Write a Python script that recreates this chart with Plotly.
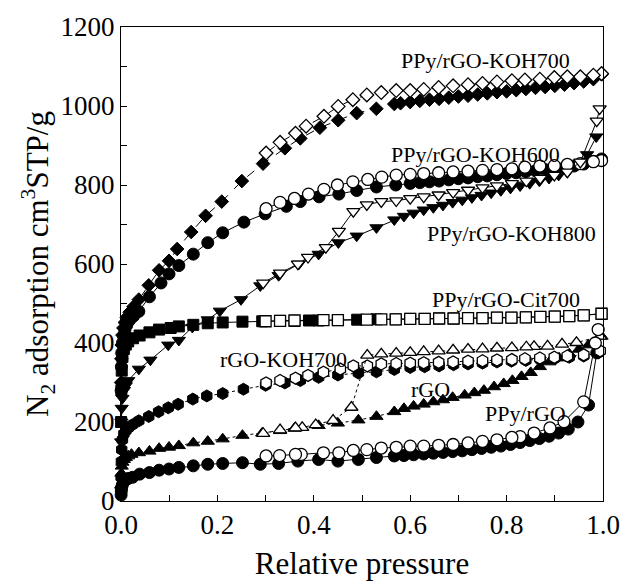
import plotly.graph_objects as go

# ---------------- data ----------------
# PPy/rGO-KOH700 (diamonds)
koh700_ads_x = [0.0003, 0.0008, 0.0015, 0.003, 0.005, 0.008, 0.012, 0.018, 0.026, 0.037, 0.0576, 0.079, 0.0996, 0.1165,
                0.1457, 0.1755, 0.209, 0.2507, 0.2947, 0.340, 0.372, 0.4126, 0.4506, 0.489, 0.5298, 0.567, 0.58, 0.6, 0.62,
                0.64, 0.66, 0.68, 0.7, 0.72, 0.74, 0.76, 0.78, 0.8, 0.82, 0.84, 0.86, 0.88, 0.9, 0.92, 0.94, 0.96, 0.98, 0.997]
koh700_ads_y = [300, 360, 395, 420, 438, 452, 465, 478, 492, 510, 546, 584, 608, 638, 681, 722, 758, 810, 854, 893, 918,
                945, 964, 982, 993, 1005, 1007, 1010, 1013, 1016, 1018, 1021, 1024, 1026, 1029, 1032, 1035, 1037, 1040, 1043,
                1046, 1048, 1051, 1054, 1058, 1062, 1068, 1080]
koh700_des_x = [0.997, 0.98, 0.953, 0.926, 0.899, 0.869, 0.838, 0.811, 0.78, 0.75, 0.72, 0.689, 0.659, 0.628, 0.6, 0.571,
                0.54, 0.51, 0.481, 0.4506, 0.421, 0.384, 0.362, 0.33, 0.301]
koh700_des_y = [1082, 1078, 1074, 1074, 1072, 1068, 1066, 1064, 1061, 1057, 1054, 1051, 1047, 1042, 1039, 1039, 1034, 1028,
                1016, 999, 974, 949, 931, 908, 881]

# PPy/rGO-KOH600 (circles)
koh600_ads_x = [0.0003, 0.0008, 0.0015, 0.003, 0.005, 0.008, 0.012, 0.018, 0.026, 0.037, 0.059, 0.083, 0.0996, 0.12, 0.15,
                0.18, 0.211, 0.255, 0.299, 0.343, 0.372, 0.411, 0.452, 0.489, 0.53, 0.57, 0.6, 0.62, 0.64, 0.66, 0.68, 0.7,
                0.72, 0.74, 0.76, 0.78, 0.8, 0.82, 0.84, 0.86, 0.88, 0.9, 0.92, 0.94, 0.96, 0.98, 0.997]
koh600_ads_y = [280, 340, 375, 400, 418, 432, 445, 458, 468, 480, 517, 552, 575, 596, 625, 654, 679, 706, 727, 746, 758,
                770, 777, 786, 795, 800, 804, 806, 808, 810, 813, 816, 818, 821, 823, 826, 829, 831, 834, 836, 839, 841,
                844, 848, 853, 860, 866]
koh600_des_x = [0.997, 0.98, 0.953, 0.926, 0.899, 0.869, 0.838, 0.811, 0.78, 0.75, 0.72, 0.689, 0.659, 0.628, 0.6, 0.571,
                0.541, 0.512, 0.481, 0.449, 0.421, 0.389, 0.36, 0.33, 0.301]
koh600_des_y = [862, 859, 854, 852, 849, 848, 845, 841, 839, 837, 835, 833, 831, 829, 827, 825, 820, 814, 808, 800, 789,
                777, 766, 756, 740]

# PPy/rGO-KOH800 (down triangles)
koh800_ads_x = [0.0003, 0.0008, 0.0015, 0.003, 0.006, 0.01, 0.015, 0.037, 0.061, 0.098, 0.12, 0.148, 0.18, 0.205, 0.249,
                0.289, 0.327, 0.369, 0.41, 0.451, 0.489, 0.53, 0.567, 0.587, 0.607, 0.628, 0.648, 0.668, 0.688, 0.708,
                0.728, 0.748, 0.768, 0.788, 0.808, 0.828, 0.848, 0.868, 0.888, 0.908, 0.926, 0.947, 0.967, 0.986]
koh800_ads_y = [150, 200, 235, 260, 280, 292, 305, 334, 357, 395, 407, 440, 459, 481, 510, 545, 571, 600, 625, 654, 671,
                692, 712, 721, 729, 737, 743, 749, 756, 762, 768, 774, 780, 786, 792, 798, 804, 810, 817, 825, 832, 850,
                877, 922]
koh800_des_x = [0.993, 0.987, 0.953, 0.926, 0.899, 0.87, 0.841, 0.811, 0.78, 0.75, 0.72, 0.689, 0.659, 0.628, 0.6, 0.571,
                0.54, 0.51, 0.482, 0.452, 0.425, 0.388, 0.367, 0.33, 0.295]
koh800_des_y = [993, 962, 858, 833, 825, 817, 810, 804, 798, 793, 787, 781, 775, 770, 766, 760, 758, 750, 733, 683, 642,
                617, 600, 577, 552]

# PPy/rGO-Cit700 (squares)
cit700_ads_x = [0.0003, 0.0008, 0.0015, 0.003, 0.006, 0.01, 0.015, 0.025, 0.0386, 0.059, 0.079, 0.103, 0.12, 0.15, 0.18,
                0.211, 0.252, 0.293, 0.33, 0.36, 0.39, 0.41, 0.45, 0.49, 0.53, 0.57, 0.6, 0.63, 0.66, 0.69, 0.72, 0.75,
                0.78, 0.81, 0.84, 0.87, 0.9, 0.93, 0.96, 0.997]
cit700_ads_y = [200, 280, 330, 365, 385, 396, 404, 412, 419, 427, 434, 438, 442, 446, 450, 452, 454, 455, 456, 456, 457,
                457, 458, 459, 460, 460, 461, 461, 462, 462, 463, 463, 464, 464, 465, 466, 467, 468, 470, 474]
cit700_des_x = [0.997, 0.96, 0.93, 0.9, 0.87, 0.84, 0.81, 0.78, 0.75, 0.72, 0.69, 0.66, 0.63, 0.6, 0.57, 0.54, 0.51, 0.45,
                0.42, 0.36, 0.33, 0.30]
cit700_des_y = [474, 470, 468, 467, 466, 465, 464, 464, 463, 463, 462, 462, 461, 461, 460, 460, 459, 458, 458, 457, 456,
                455]

# rGO-KOH700 (hexagons)
rgokoh_ads_x = [0.0003, 0.0008, 0.0015, 0.003, 0.006, 0.01, 0.015, 0.0237, 0.037, 0.0576, 0.078, 0.098, 0.1185, 0.149,
                0.178, 0.211, 0.254, 0.30, 0.34, 0.372, 0.41, 0.45, 0.4925, 0.53, 0.567, 0.6, 0.63, 0.66, 0.69, 0.72, 0.75,
                0.78, 0.81, 0.84, 0.87, 0.9, 0.93, 0.96, 0.99]
rgokoh_ads_y = [60, 100, 130, 155, 170, 178, 185, 193, 203, 214, 226, 236, 245, 258, 266, 272, 283, 293, 299, 305, 313,
                319, 324, 327, 333, 338, 340, 342, 345, 347, 349, 352, 354, 356, 358, 361, 364, 367, 375]
rgokoh_des_x = [0.994, 0.96, 0.926, 0.899, 0.869, 0.838, 0.811, 0.78, 0.75, 0.72, 0.689, 0.659, 0.628, 0.6, 0.571, 0.54,
                0.511, 0.482, 0.455, 0.42, 0.388, 0.362, 0.33, 0.301]
rgokoh_des_y = [380, 370, 367, 364, 362, 360, 358, 357, 355, 354, 352, 351, 350, 349, 348, 347, 342, 342, 334, 326, 318,
                311, 305, 299]

# rGO (up triangles)
rgo_ads_x = [0.0003, 0.0008, 0.0015, 0.003, 0.006, 0.01, 0.015, 0.0217, 0.037, 0.059, 0.079, 0.0996, 0.12, 0.15, 0.18,
             0.211, 0.252, 0.293, 0.33, 0.36, 0.41, 0.45, 0.4925, 0.53, 0.567, 0.587, 0.607, 0.628, 0.648, 0.668, 0.688,
             0.713, 0.733, 0.753, 0.774, 0.794, 0.812, 0.831, 0.85, 0.869, 0.889, 0.909, 0.93, 0.95, 0.97, 0.997]
rgo_ads_y = [40, 70, 88, 98, 105, 110, 114, 118, 122, 126, 133, 136, 140, 147, 151, 157, 166, 172, 178, 184, 191, 197,
             205, 214, 226, 234, 240, 245, 251, 256, 262, 268, 274, 280, 289, 297, 305, 315, 325, 340, 352, 362, 372, 384,
             395, 417]
rgo_des_x = [0.994, 0.945, 0.915, 0.885, 0.857, 0.841, 0.811, 0.78, 0.75, 0.72, 0.689, 0.659, 0.628, 0.6, 0.571, 0.54,
             0.511, 0.478, 0.44, 0.404, 0.376, 0.362, 0.33, 0.295]
rgo_des_y = [417, 401, 397, 392, 391, 390, 388, 387, 385, 384, 382, 380, 378, 376, 374, 372, 369, 237, 204, 193, 186, 185,
             180, 171]

# PPy/rGO (circles)
ppy_ads_x = [0.0002, 0.0006, 0.0012, 0.0025, 0.005, 0.009, 0.015, 0.024, 0.0386, 0.059, 0.079, 0.0996, 0.12, 0.15, 0.18,
             0.211, 0.252, 0.289, 0.327, 0.367, 0.41, 0.45, 0.4925, 0.53, 0.567, 0.587, 0.607, 0.628, 0.648, 0.668, 0.688,
             0.708, 0.728, 0.748, 0.768, 0.788, 0.808, 0.828, 0.848, 0.868, 0.888, 0.908, 0.928, 0.948, 0.97, 0.987]
ppy_ads_y = [15, 25, 33, 40, 47, 53, 57, 60, 68, 72, 78, 81, 85, 89, 93, 95, 97, 93, 95, 101, 105, 101, 105, 110, 114,
             115, 117, 119, 121, 123, 125, 127, 130, 133, 136, 139, 143, 148, 153, 158, 164, 172, 182, 200, 243, 375]
ppy_des_x = [0.99, 0.984, 0.96, 0.919, 0.89, 0.857, 0.828, 0.811, 0.78, 0.75, 0.72, 0.689, 0.659, 0.628, 0.6, 0.571, 0.54,
             0.51, 0.482, 0.452, 0.42, 0.374, 0.362, 0.329, 0.301]
ppy_des_y = [434, 400, 251, 201, 185, 172, 163, 161, 155, 151, 147, 143, 141, 139, 139, 136, 134, 130, 128, 122, 122, 118,
             118, 115, 114]

labels = ["PPy/rGO-KOH700", "PPy/rGO-KOH600", "PPy/rGO-KOH800", "PPy/rGO-Cit700", "rGO-KOH700", "rGO", "PPy/rGO"]
label_x = [0.756, 0.736, 0.811, 0.799, 0.338, 0.643, 0.839]
label_y = [1115, 878, 678, 509, 359, 282, 222]

x_ticks = [0.0, 0.2, 0.4, 0.6, 0.8, 1.0]
y_ticks = [0, 200, 400, 600, 800, 1000, 1200]

# ---------------- figure ----------------
FONT = "Liberation Serif"
fig = go.Figure()

series = [
    (koh700_ads_x, koh700_ads_y, koh700_des_x, koh700_des_y, "diamond", 10.5, "dash", labels[0]),
    (koh600_ads_x, koh600_ads_y, koh600_des_x, koh600_des_y, "circle", 12, "solid", labels[1]),
    (koh800_ads_x, koh800_ads_y, koh800_des_x, koh800_des_y, "triangle-down", 11.5, "solid", labels[2]),
    (cit700_ads_x, cit700_ads_y, cit700_des_x, cit700_des_y, "square", 11, "solid", labels[3]),
    (rgokoh_ads_x, rgokoh_ads_y, rgokoh_des_x, rgokoh_des_y, "hexagon", 12, "dot", labels[4]),
    (rgo_ads_x, rgo_ads_y, rgo_des_x, rgo_des_y, "triangle-up", 11.5, "dot", labels[5]),
    (ppy_ads_x, ppy_ads_y, ppy_des_x, ppy_des_y, "circle", 12, "solid", labels[6]),
]

for ax, ay, dx, dy, sym, size, dash, name in series:
    fig.add_trace(go.Scatter(
        x=ax, y=ay, mode="lines+markers", name=name + " adsorption",
        line=dict(color="black", width=1, dash=dash),
        marker=dict(symbol=sym, size=size, color="black", line=dict(color="black", width=1)),
        cliponaxis=False, showlegend=False))
for ax, ay, dx, dy, sym, size, dash, name in series:
    fig.add_trace(go.Scatter(
        x=dx, y=dy, mode="lines+markers", name=name + " desorption",
        line=dict(color="black", width=1, dash=dash),
        marker=dict(symbol=sym, size=size, color="white", line=dict(color="black", width=1.3)),
        cliponaxis=False, showlegend=False))

for t, lx, ly in zip(labels, label_x, label_y):
    fig.add_annotation(x=lx, y=ly, text=t, showarrow=False, xanchor="center", yanchor="middle",
                       font=dict(family=FONT, size=22, color="black"))

fig.update_layout(
    width=632, height=586,
    margin=dict(l=121, r=19, t=23, b=82),
    paper_bgcolor="white", plot_bgcolor="white",
    font=dict(family=FONT, color="black"),
)
fig.update_xaxes(
    range=[0, 1], tickvals=x_ticks, tickformat=".1f",
    ticks="inside", ticklen=6, tickcolor="black",
    minor=dict(dtick=0.1, ticks="inside", ticklen=6, tickcolor="black"),
    showline=True, linecolor="black", linewidth=1, mirror=True,
    showgrid=False, zeroline=False,
    tickfont=dict(family=FONT, size=27, color="black"),
    title=dict(text="Relative pressure", font=dict(family=FONT, size=31, color="black"), standoff=12),
)
fig.update_yaxes(
    range=[0, 1200], tickvals=y_ticks,
    ticks="inside", ticklen=6, tickcolor="black",
    minor=dict(dtick=100, ticks="inside", ticklen=6, tickcolor="black"),
    showline=True, linecolor="black", linewidth=1, mirror=True,
    showgrid=False, zeroline=False,
    tickfont=dict(family=FONT, size=27, color="black"),
    title=dict(text="N<sub>2</sub> adsorption cm<sup>3</sup>STP/g", font=dict(family=FONT, size=31, color="black"), standoff=2),
)

fig.write_html("out.html")
